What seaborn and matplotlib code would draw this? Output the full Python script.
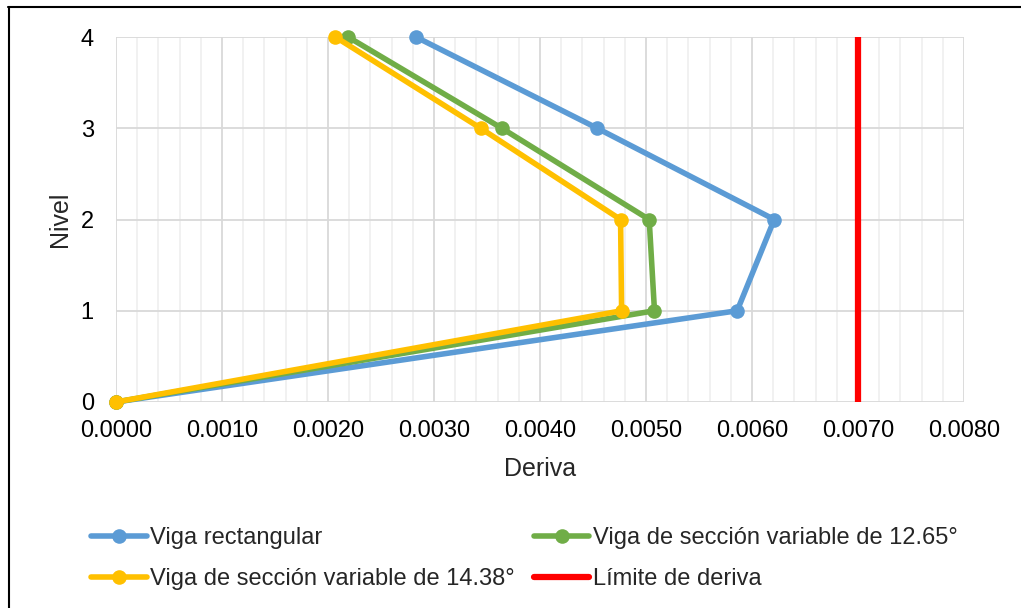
import matplotlib
matplotlib.use("Agg")
import matplotlib.pyplot as plt
from matplotlib.lines import Line2D
from matplotlib.ticker import MultipleLocator, FormatStrFormatter
import seaborn as sns
import pandas as pd

# Storey levels and inter-storey drift per beam type
niveles = [0, 1, 2, 3, 4]
deriva_rectangular = [0.0, 0.00586, 0.00621, 0.00454, 0.00283]
deriva_1265 = [0.0, 0.00508, 0.00503, 0.00364, 0.00219]
deriva_1438 = [0.0, 0.00477, 0.00476, 0.00344, 0.00207]
limite_deriva = 0.0070
limite_niveles = [0, 4]

series = [
    ("Viga rectangular", deriva_rectangular, "#5B9BD5"),
    ("Viga de sección variable de 12.65°", deriva_1265, "#70AD47"),
    ("Viga de sección variable de 14.38°", deriva_1438, "#FFC000"),
]

sns.set_theme(style="white")
plt.rcParams["font.family"] = ["Liberation Sans", "DejaVu Sans"]

fig = plt.figure(figsize=(10.21, 6.08), dpi=100)
ax = fig.add_axes([116 / 1021, 1 - 402 / 608, (964 - 116) / 1021, (402 - 37) / 608])

for i, (nombre, valores, color) in enumerate(series):
    df = pd.DataFrame({"Deriva": valores, "Nivel": niveles})
    sns.lineplot(data=df, x="Deriva", y="Nivel", sort=False, ax=ax,
                 color=color, linewidth=4, marker="o", markersize=10.5,
                 markeredgewidth=0, label=nombre, zorder=3 + i,
                 clip_on=False, estimator=None)

df_lim = pd.DataFrame({"Deriva": [limite_deriva] * len(limite_niveles),
                       "Nivel": limite_niveles})
sns.lineplot(data=df_lim, x="Deriva", y="Nivel", sort=False, ax=ax,
             color="#FF0000", linewidth=4.5, label="Límite de deriva",
             zorder=7, estimator=None)

ax.set_xlim(0, 0.008)
ax.set_ylim(0, 4)
ax.xaxis.set_major_locator(MultipleLocator(0.001))
ax.xaxis.set_minor_locator(MultipleLocator(0.0002))
ax.xaxis.set_major_formatter(FormatStrFormatter("%.4f"))
ax.yaxis.set_major_locator(MultipleLocator(1))
ax.grid(which="major", axis="both", color="#D9D9D9", linewidth=1.3, zorder=0)
ax.grid(which="minor", axis="x", color="#F0F0F0", linewidth=1.3, zorder=0)
ax.set_axisbelow(True)
for s in ax.spines.values():
    s.set_visible(False)
ax.tick_params(axis="both", which="both", length=0, labelsize=17, colors="black")
ax.tick_params(axis="y", pad=16)
ax.tick_params(axis="x", pad=13)
ax.set_xlabel("Deriva", fontsize=18, labelpad=11)
ax.set_ylabel("Nivel", fontsize=18, labelpad=6)

# Legend laid out row by row: rectangular / 12.65° then 14.38° / limit
handles, labels = ax.get_legend_handles_labels()
ax.get_legend().remove()
orden = [0, 2, 1, 3]
fig.legend([handles[k] for k in orden], [labels[k] for k in orden],
           ncol=2, loc="upper left",
           bbox_to_anchor=(70 / 1021, 1 - 506 / 608), frameon=False,
           fontsize=17, handlelength=2.35, handletextpad=0.15,
           columnspacing=0.8, labelspacing=0.8)

# Outer frame (top and left edges)
fig.add_artist(Line2D([8 / 1021, 1.0], [1 - 7 / 608, 1 - 7 / 608],
                      transform=fig.transFigure, color="black", linewidth=1.5))
fig.add_artist(Line2D([9 / 1021, 9 / 1021], [1 - 7 / 608, 0.0],
                      transform=fig.transFigure, color="black", linewidth=1.5))

fig.savefig("out.png", dpi=100, facecolor="white")
